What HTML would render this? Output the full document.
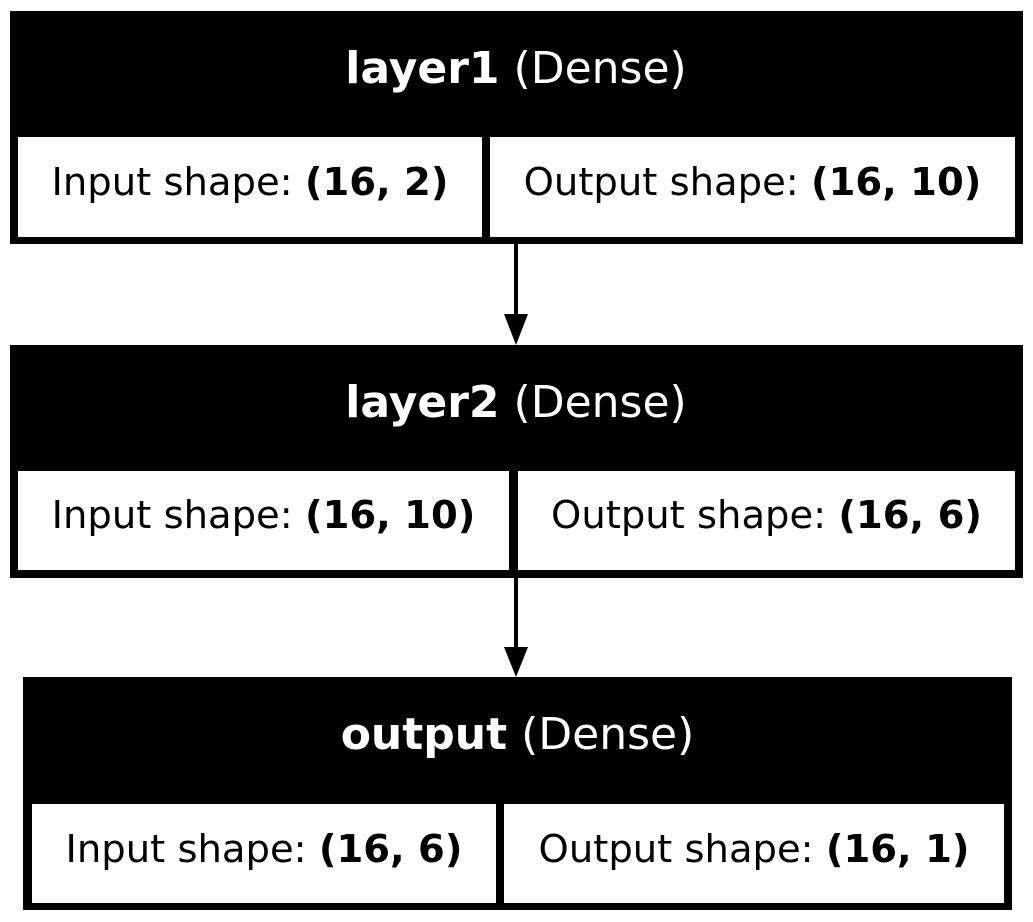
<!DOCTYPE html>
<html><head><meta charset="utf-8"><style>html,body{margin:0;padding:0;background:#fff}svg{display:block}</style></head>
<body>
<svg width="1033" height="922" viewBox="0 0 1033 922" xmlns="http://www.w3.org/2000/svg" font-family="'DejaVu Sans','Liberation Sans',sans-serif">
<rect width="1033" height="922" fill="#fff"/>
<!-- Box 1 -->
<rect x="10" y="11" width="1013" height="233" fill="#000"/>
<rect x="18" y="137" width="464" height="100" fill="#fff"/>
<rect x="490" y="137" width="525" height="100" fill="#fff"/>
<text x="516" y="83" text-anchor="middle" font-size="44" fill="#fff"><tspan font-weight="bold">layer1</tspan> (Dense)</text>
<text x="250" y="195" text-anchor="middle" font-size="38.5">Input shape: <tspan font-weight="bold">(16, 2)</tspan></text>
<text x="752.5" y="195" text-anchor="middle" font-size="38.5">Output shape: <tspan font-weight="bold">(16, 10)</tspan></text>
<!-- Arrow 1 -->
<line x1="516" y1="244" x2="516" y2="316" stroke="#000" stroke-width="4"/>
<polygon points="504,314 528,314 516,345" fill="#000"/>
<!-- Box 2 -->
<rect x="10" y="345" width="1013" height="233" fill="#000"/>
<rect x="18" y="471" width="491" height="99" fill="#fff"/>
<rect x="518" y="471" width="497" height="99" fill="#fff"/>
<text x="516" y="417" text-anchor="middle" font-size="44" fill="#fff"><tspan font-weight="bold">layer2</tspan> (Dense)</text>
<text x="263.5" y="528" text-anchor="middle" font-size="38.5">Input shape: <tspan font-weight="bold">(16, 10)</tspan></text>
<text x="766.5" y="528" text-anchor="middle" font-size="38.5">Output shape: <tspan font-weight="bold">(16, 6)</tspan></text>
<!-- Arrow 2 -->
<line x1="516" y1="578" x2="516" y2="649" stroke="#000" stroke-width="4"/>
<polygon points="504,647 528,647 516,677" fill="#000"/>
<!-- Box 3 -->
<rect x="23" y="677" width="989" height="233" fill="#000"/>
<rect x="32" y="804" width="464" height="99" fill="#fff"/>
<rect x="504" y="804" width="500" height="99" fill="#fff"/>
<text x="517.5" y="749" text-anchor="middle" font-size="44" fill="#fff"><tspan font-weight="bold">output</tspan> (Dense)</text>
<text x="264" y="862" text-anchor="middle" font-size="38.5">Input shape: <tspan font-weight="bold">(16, 6)</tspan></text>
<text x="754" y="862" text-anchor="middle" font-size="38.5">Output shape: <tspan font-weight="bold">(16, 1)</tspan></text>
</svg>
</body></html>
